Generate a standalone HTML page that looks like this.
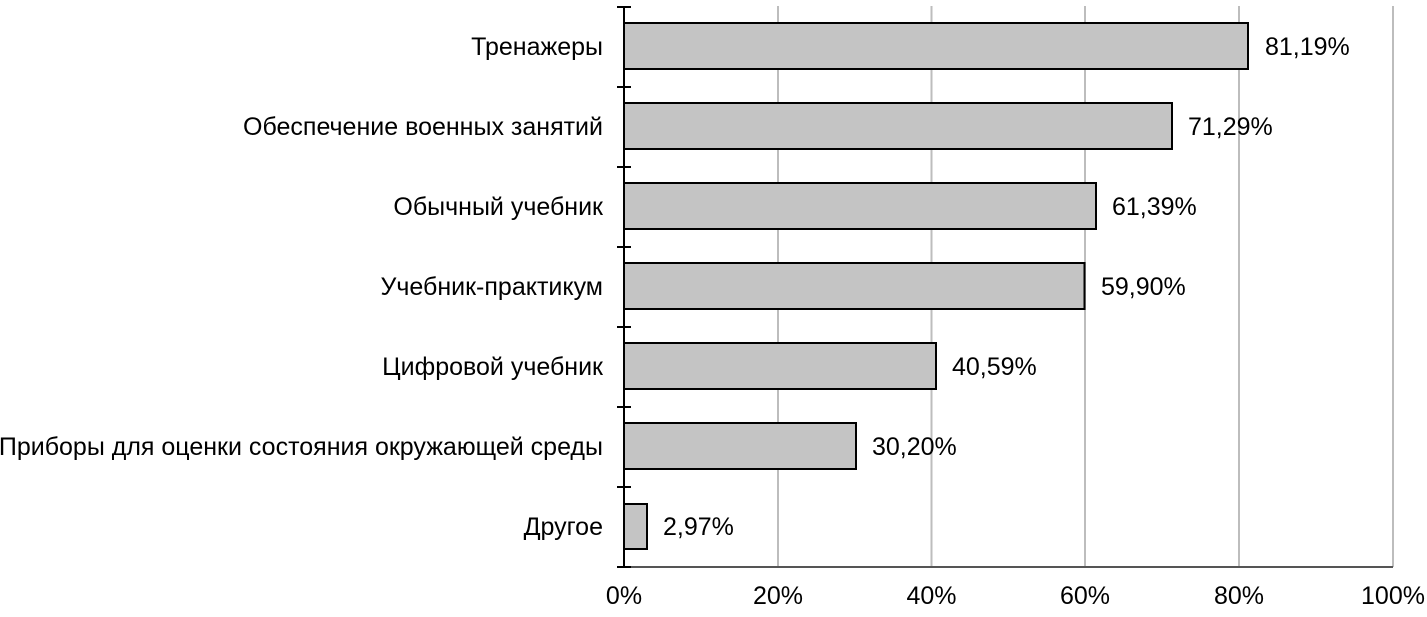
<!DOCTYPE html>
<html><head><meta charset="utf-8"><style>body{margin:0;background:#fff}</style></head><body>
<svg width="1427" height="612" xmlns="http://www.w3.org/2000/svg" font-family="Liberation Sans, Arial, sans-serif" font-size="25" fill="#000">
<g stroke="#bdbdbd" stroke-width="2">
<line x1="778" y1="6" x2="778" y2="567"/><line x1="931.5" y1="6" x2="931.5" y2="567"/><line x1="1085" y1="6" x2="1085" y2="567"/><line x1="1239" y1="6" x2="1239" y2="567"/><line x1="1393" y1="6" x2="1393" y2="567"/>
</g>
<line x1="624" y1="567" x2="1393" y2="567" stroke="#555" stroke-width="2"/>
<g fill="#c4c4c4" stroke="#000" stroke-width="2">
<rect x="624" y="23" width="624" height="46"/>
<rect x="624" y="103" width="548" height="46"/>
<rect x="624" y="183" width="472" height="46"/>
<rect x="624" y="263" width="460.5" height="46"/>
<rect x="624" y="343" width="312" height="46"/>
<rect x="624" y="423" width="232" height="46"/>
<rect x="624" y="504" width="23" height="45"/>
</g>
<g stroke="#000" stroke-width="2">
<line x1="624" y1="6" x2="624" y2="568"/>
<line x1="617" y1="7" x2="631" y2="7"/><line x1="617" y1="87" x2="631" y2="87"/><line x1="617" y1="167" x2="631" y2="167"/><line x1="617" y1="247" x2="631" y2="247"/><line x1="617" y1="327" x2="631" y2="327"/><line x1="617" y1="407" x2="631" y2="407"/><line x1="617" y1="487" x2="631" y2="487"/><line x1="617" y1="567" x2="631" y2="567"/>
</g>
<g text-anchor="end">
<text x="603" y="55">Тренажеры</text>
<text x="603" y="135">Обеспечение военных занятий</text>
<text x="603" y="215">Обычный учебник</text>
<text x="603" y="295">Учебник-практикум</text>
<text x="603" y="375">Цифровой учебник</text>
<text x="603" y="455">Приборы для оценки состояния окружающей среды</text>
<text x="603" y="535">Другое</text>
</g>
<text x="1265" y="55">81,19%</text>
<text x="1188" y="135">71,29%</text>
<text x="1112" y="215">61,39%</text>
<text x="1101" y="295">59,90%</text>
<text x="952" y="375">40,59%</text>
<text x="872" y="455">30,20%</text>
<text x="663" y="535">2,97%</text>
<g text-anchor="middle">
<text x="624" y="604">0%</text><text x="778" y="604">20%</text><text x="931.5" y="604">40%</text><text x="1085" y="604">60%</text><text x="1239" y="604">80%</text><text x="1393" y="604">100%</text>
</g>
</svg>
</body></html>
